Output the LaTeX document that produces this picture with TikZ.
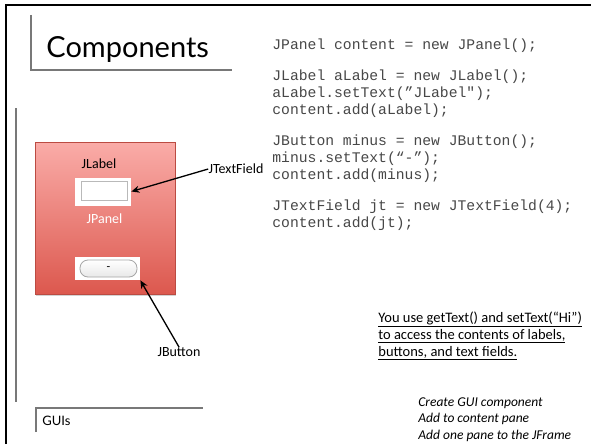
\documentclass[tikz,border=0pt]{standalone}
\usepackage{fontspec}
\setmainfont{Carlito}
\newfontfamily\codefont{Liberation Mono}
\newfontfamily\titlefont{Lato}
\usetikzlibrary{positioning,arrows.meta,shadows}
\definecolor{guiRedTop}{RGB}{250,172,168}
\definecolor{guiRedBot}{RGB}{220,88,78}
\definecolor{guiGrey}{RGB}{120,120,120}
\definecolor{guiEdge}{RGB}{185,185,185}

\begin{document}
\begin{tikzpicture}[
    x=1pt, y=-1pt,
    thick,
    rule line/.style={draw=guiGrey, line width=1.3pt},
    frame line/.style={draw=black, line width=2.2pt},
    panel node/.style={rectangle, draw=guiRedBot!85!black, line width=0.4pt, top color=guiRedTop, bottom color=guiRedBot, minimum width=140pt, minimum height=152pt, inner sep=0pt, drop shadow={shadow xshift=1pt, shadow yshift=-1.5pt, opacity=0.35}},
    white box/.style={rectangle, fill=white, inner sep=0pt},
    field node/.style={rectangle, draw=guiEdge, line width=0.8pt, fill=white, minimum width=46pt, minimum height=19pt, inner sep=0pt},
    pill node/.style={rectangle, rounded corners=8pt, draw=gray!70, line width=0.8pt, top color=white, bottom color=gray!18, minimum width=57pt, minimum height=17pt, inner sep=0pt, font=\fontsize{12}{12}\selectfont},
    label text/.style={font=\fontsize{14}{16}\selectfont, inner sep=0pt},
    code text/.style={font=\codefont\fontsize{14.7}{17}\selectfont, align=left, inner sep=0pt, text=black!72},
    note text/.style={font=\fontsize{14.5}{17}\selectfont, align=left, inner sep=0pt},
    pointer/.style={->, >={Stealth[length=8pt,width=7pt]}, line width=1.3pt}
]
  \useasboundingbox (0,0) rectangle (591,444);

  % slide frame and rules
  \draw[frame line] (6,444) -- (6,5) -- (591,5);
  \draw[rule line] (31,15) -- (31,70) -- (232,70);
  \draw[rule line] (16,108) -- (16,402);
  \draw[rule line] (36,432) -- (36,408) -- (203,408);

  \node[font=\titlefont\fontsize{29}{32}\selectfont, anchor=base west, inner sep=0pt] (title) at (46,57) {Components};
  \node[font=\titlefont\fontsize{13}{15}\selectfont, anchor=base west, inner sep=0pt] (footer) at (42,425) {GUIs};

  % the panel mock-up
  \node[panel node] (panel) at (105,218) {};
  \node[label text] (jlabel) at (99,164) {JLabel};
  \node[white box, minimum width=56pt, minimum height=28pt] (fieldbg) at (103,191.5) {};
  \node[field node] (field) at (104,190.5) {};
  \node[label text, text=white] (jpanel) at (104.5,219) {JPanel};
  \node[white box, minimum width=65pt, minimum height=23pt] (buttonbg) at (107.5,268.5) {};
  \node[pill node] (button) at (108.5,268.5) {-};

  \node[label text] (jtextfield) at (236,169) {JTextField};
  \node[label text] (jbutton) at (179,352) {JButton};

  \draw[pointer] (jtextfield.west) -- (fieldbg.east);
  \draw[pointer] (jbutton.north) -- (buttonbg.south east);

  % code listing
  \node[code text, anchor=north west] (code) at (272,38) {%
    JPanel content = new JPanel();\\[14pt]
    JLabel aLabel = new JLabel();\\
    aLabel.setText(”JLabel");\\
    content.add(aLabel);\\[14pt]
    JButton minus = new JButton();\\
    minus.setText(“-”);\\
    content.add(minus);\\[14pt]
    JTextField jt = new JTextField(4);\\
    content.add(jt);};

  \node[note text, anchor=north west] (hint) at (378,311) {%
    \underline{You use getText() and setText(“Hi”)}\\
    \underline{to access the contents of labels,}\\
    \underline{buttons, and text fields.}};

  \node[note text, anchor=north west, font=\itshape\fontsize{13.5}{16.5}\selectfont] (steps) at (418,397) {%
    Create GUI component\\
    Add to content pane\\
    Add one pane to the JFrame};
\end{tikzpicture}
\end{document}
